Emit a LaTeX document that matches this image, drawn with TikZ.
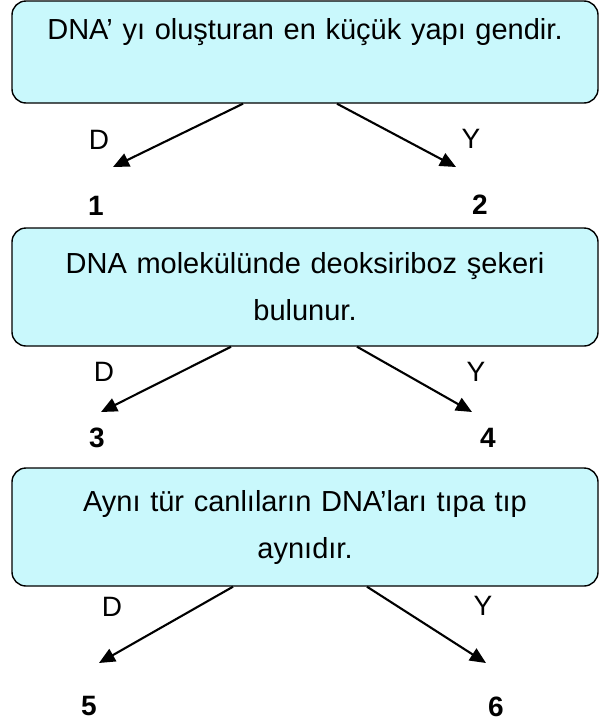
\documentclass[tikz,border=0pt]{standalone}
\usepackage{fontspec}
\setmainfont{Liberation Sans}
\definecolor{qCyan}{HTML}{C9F8FC}
\usetikzlibrary{calc,arrows.meta}

\tikzset{
  qbox/.style={draw=black, line width=1.4pt, fill=qCyan, rounded corners=14pt,
    minimum width=586pt, text width=570pt, align=center,
    font=\fontsize{29}{47}\selectfont},
  lbl/.style={font=\fontsize{28}{30}\selectfont},
  num/.style={font=\fontsize{28}{30}\selectfont\bfseries},
  arr/.style={line width=2.1pt, -{Triangle[length=16pt, width=14pt]}}
}

\begin{document}
\begin{tikzpicture}[x=1pt, y=-1pt]
  \useasboundingbox (0,0) rectangle (611,726);

  % Question boxes
  \node[qbox, minimum height=102pt] (q1) at (305,52) {DNA’ yı oluşturan en küçük yapı gendir.\\ \mbox{}};
  \node[qbox, minimum height=118pt] (q2) at (305,287) {DNA molekülünde deoksiriboz şekeri\\ bulunur.};
  \node[qbox, minimum height=118pt] (q3) at (305,527) {Aynı tür canlıların DNA’ları tıpa tıp\\ aynıdır.};

  % Arrow ends
  \coordinate (s1l) at ($(q1.south)+(-62,0)$);
  \coordinate (s1r) at ($(q1.south)+(32,0)$);
  \coordinate (s2l) at ($(q2.south)+(-74,0)$);
  \coordinate (s2r) at ($(q2.south)+(52,0)$);
  \coordinate (s3l) at ($(q3.south)+(-72,0)$);
  \coordinate (s3r) at ($(q3.south)+(62,0)$);
  \coordinate (t1l) at (113,167);
  \coordinate (t1r) at (456,167);
  \coordinate (t2l) at (101,412);
  \coordinate (t2r) at (472,412);
  \coordinate (t3l) at (99,663);
  \coordinate (t3r) at (486,663);

  % Arrows
  \draw[arr] (s1l) -- (t1l);
  \draw[arr] (s1r) -- (t1r);
  \draw[arr] (s2l) -- (t2l);
  \draw[arr] (s2r) -- (t2r);
  \draw[arr] (s3l) -- (t3l);
  \draw[arr] (s3r) -- (t3r);

  % D / Y labels
  \node[lbl] (d1) at (99,140) {D};
  \node[lbl] (y1) at (471,139) {Y};
  \node[lbl] (d2) at (104,372) {D};
  \node[lbl] (y2) at (476,372) {Y};
  \node[lbl] (d3) at (112,607) {D};
  \node[lbl] (y3) at (483,606) {Y};

  % Numbers
  \node[num] (n1) at (96,206) {1};
  \node[num] (n2) at (480,205) {2};
  \node[num] (n3) at (97,438) {3};
  \node[num] (n4) at (488,438) {4};
  \node[num] (n5) at (89,706) {5};
  \node[num] (n6) at (496,707) {6};
\end{tikzpicture}
\end{document}
